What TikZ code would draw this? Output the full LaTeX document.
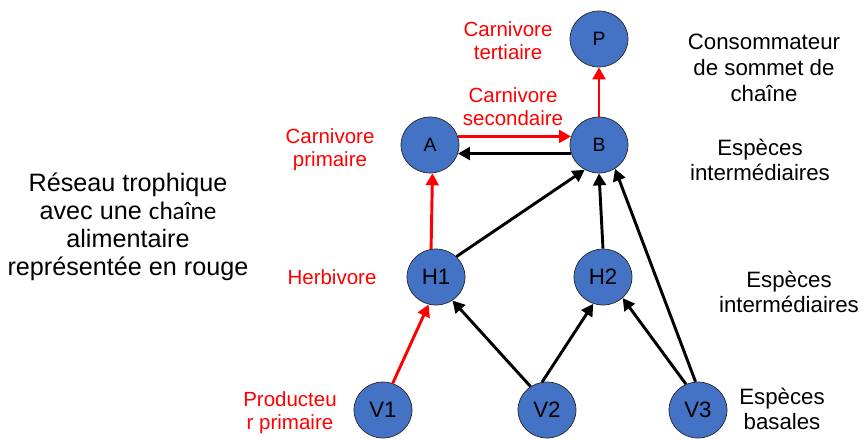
\documentclass[tikz,border=0pt]{standalone}
\usepackage{fontspec}
\setmainfont{Liberation Sans}
\newfontfamily\calfont{Carlito}
\usetikzlibrary{arrows.meta,shapes.geometric}
\definecolor{nodeblue}{HTML}{4472C4}
\tikzstyle{species}=[ellipse, fill=nodeblue, draw=black!85, line width=0.6pt,
minimum width=1.74cm, minimum height=1.68cm, inner sep=0pt,
font=\fontsize{19}{22}\selectfont]
\tikzstyle{toplevel}=[species, font=\fontsize{16.5}{19}\selectfont]
\tikzstyle{redlabel}=[text=red, align=center, font=\fontsize{17.5}{19.5}\selectfont]
\tikzstyle{levellabel}=[align=center, font=\fontsize{19}{22}\selectfont]
\tikzstyle{link}=[line width=2.5pt, -{Triangle[length=3.6mm,width=3.8mm]}]
\tikzstyle{redlink}=[link, red]

\begin{document}
\begin{tikzpicture}[x=0.03cm,y=-0.03cm]
\useasboundingbox (0,0) rectangle (866,439);
\node[toplevel](P)at (599,39){P};
\node[toplevel](A)at (430,145){A};
\node[toplevel](B)at (599,145){B};
\node[species](H1)at (436,277){H1};
\node[species](H2)at (603,277){H2};
\node[species](V1)at (383,410){V1};
\node[species](V2)at (547,410){V2};
\node[species](V3)at (698,410){V3};
\node[redlabel](tert)at (508,41){Carnivore\\tertiaire};
\node[redlabel](second)at (513,107){Carnivore\\secondaire};
\node[redlabel](prim)at (330,150){Carnivore\\primaire};
\node[redlabel](herb)at (332,277){Herbivore};
\node[redlabel](prod)at (290,413){Producteu\\r primaire};
\node[levellabel](summit)at (764,68){Consommateur\\de sommet de\\cha\^ine};
\node[levellabel](inter1)at (760,160){Esp\`eces\\interm\'ediaires};
\node[levellabel](inter2)at (789,292){Esp\`eces\\interm\'ediaires};
\node[levellabel](basal)at (782,409){Esp\`eces\\basales};
\node[align=center, font=\fontsize{21.5}{24}\selectfont](title)at (128,227)
{R\'eseau trophique\\avec une {\calfont cha\^ine}\\alimentaire\\repr\'esent\'ee en rouge};
\draw [redlink](V1.70) -- (H1.-105);
\draw [link](V2.125) -- (H1.-55);
\draw [link](V2.100) -- (H2.-110);
\draw [link](V3.115) -- (H2.-47);
\draw [link](V3.95) -- (B.-56);
\draw [link](H1.45) -- (B.-120);
\draw [link](H2.north) -- (B.south);
\draw [redlink](H1.100) -- (A.-85);
\draw [redlink](A.17) -- (B.163);
\draw [link](B.197) -- (A.-17);
\draw [redlink](B.north) -- (P.south);
\end{tikzpicture}
\end{document}
